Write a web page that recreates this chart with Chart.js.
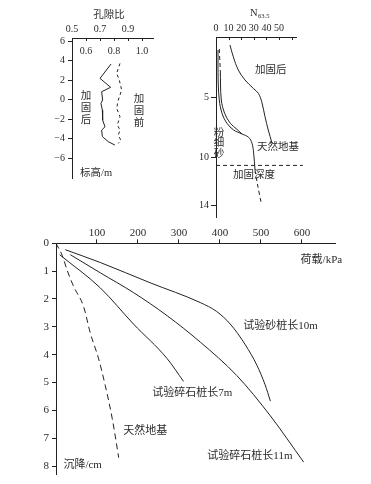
<!DOCTYPE html>
<html><head><meta charset="utf-8">
<script src="https://cdn.jsdelivr.net/npm/chart.js@4.4.1/dist/chart.umd.min.js"></script>
<style>
html,body{margin:0;padding:0;background:#fff;width:371px;height:484px;overflow:hidden}
canvas{position:absolute;display:block}
</style></head><body>
<canvas id="c1" width="185" height="200" style="left:0;top:0"></canvas>
<canvas id="c2" width="186" height="230" style="left:185px;top:0"></canvas>
<canvas id="c3" width="371" height="269" style="left:0;top:215px"></canvas>
<script>
// ---------- Chart 1: void ratio (孔隙比) vs elevation (标高) ----------
const ratioTopTicks = [0.5, 0.7, 0.9];
const ratioInnerTicks = [0.6, 0.8, 1.0];
const ratioMarks = [0.6, 0.7, 0.8, 0.9, 1.0];
const elevTicks = [6, 4, 2, 0, -2, -4, -6];
const afterRatio = [0.779, 0.700, 0.776, 0.712, 0.719, 0.707, 0.717, 0.719, 0.736, 0.712, 0.717, 0.760, 0.807];
const afterElev  = [3.64, 2.17, 1.25, 0.80, -0.05, -0.39, -1.08, -2.10, -2.80, -3.13, -3.80, -4.33, -4.67];
const beforeRatio = [0.843, 0.819, 0.838, 0.855, 0.831, 0.819, 0.843, 0.824, 0.843, 0.831, 0.848, 0.831];
const beforeElev  = [3.70, 2.69, 2.00, 0.97, -0.05, -0.90, -1.76, -2.60, -3.13, -3.64, -4.15, -4.50];

// ---------- Chart 2: N63.5 blow count vs depth ----------
const blowTicks = [0, 10, 20, 30, 40, 50];
const blowMarks = [10, 20, 30, 40, 50, 60];
const depthTicks = [5, 10, 14];
const reinforcedBlows = [11.1, 13.7, 17.7, 23.0, 29.6, 33.6, 36.3, 38.9, 41.5, 44.5];
const reinforcedDepth = [0.67, 1.64, 2.75, 3.58, 4.28, 4.69, 5.39, 6.64, 7.75, 8.85];
const naturalBlows = [1.6, 1.7, 2.6, 4.8, 8.7, 14.0, 20.6, 25.9, 28.6, 29.9, 31.0];
const naturalDepth = [1.08, 3.58, 5.25, 6.36, 7.19, 7.75, 8.08, 8.36, 8.86, 9.69, 11.1];
const naturalTailBlows = [31.0, 32.8, 36.0];
const naturalTailDepth = [11.1, 12.2, 13.9];
const siltBlows = [3.4, 4.2, 6.9, 11.4, 16.7, 20.6];
const siltDepth = [2.75, 5.25, 6.36, 7.19, 7.70, 8.08];
const siltTopBlows = [2.6, 3.4];
const siltTopDepth = [1.0, 2.75];
const treatLineBlows = [0, 69];
const treatLineDepth = [10.7, 10.7];

// ---------- Chart 3: load (荷载) vs settlement (沉降) ----------
const loadTicks = [100, 200, 300, 400, 500, 600];
const settleTicks = [0, 1, 2, 3, 4, 5, 6, 7, 8];
const naturalLoad   = [0, 15, 27, 43, 67, 84, 104, 120, 137, 153];
const naturalSettle = [0, 0.43, 0.96, 1.55, 2.26, 3.24, 4.15, 5.10, 6.28, 7.70];
const pile7Load   = [8.8, 108, 189, 271, 311];
const pile7Settle = [0.41, 1.60, 2.90, 4.14, 4.96];
const pile11Load   = [35, 108, 189, 271, 352, 441, 523, 604];
const pile11Settle = [0.41, 1.06, 1.77, 2.60, 3.55, 4.75, 6.20, 7.86];
const sand10Load   = [22.7, 108, 230, 352, 392, 425, 462, 490, 510, 523];
const sand10Settle = [0.23, 0.69, 1.42, 2.13, 2.45, 2.90, 3.65, 4.38, 5.08, 5.67];

// ---------- styling ----------
const FONT = "'Liberation Serif','Noto Sans CJK SC',serif";
const INK = '#222';
const TXT = '#2b2b2b';
Chart.defaults.font.family = FONT;
Chart.defaults.color = TXT;
Chart.defaults.animation = false;

const pts = (xs, ys) => xs.map((x, i) => ({x, y: ys[i]}));
const line = (xs, ys, extra) => Object.assign({
  data: pts(xs, ys), borderColor: INK, borderWidth: 1, pointRadius: 0,
  fill: false, tension: 0
}, extra || {});
const fixTicks = vals => s => { s.ticks = vals.map(v => ({value: v})); };
const minus = v => v < 0 ? '\u2212' + Math.abs(v) : String(v);

function notesPlugin(notes, opts) {
  opts = opts || {};
  return {
    id: 'notes',
    afterDraw(chart) {
      const ctx = chart.ctx, xs = chart.scales.x, ys = chart.scales.y, a = chart.chartArea;
      ctx.save();
      ctx.fillStyle = TXT; ctx.strokeStyle = INK; ctx.lineWidth = 1;
      // inward tick marks on top axis
      if (opts.marks) {
        ctx.beginPath();
        opts.marks.forEach(v => {
          const px = Math.round(xs.getPixelForValue(v)) + 0.5;
          ctx.moveTo(px, a.top); ctx.lineTo(px, a.top + opts.markLen);
        });
        ctx.stroke();
      }
      // inner tick labels
      if (opts.inner) {
        ctx.font = opts.innerSize + 'px ' + FONT;
        ctx.textAlign = 'center'; ctx.textBaseline = 'middle';
        opts.inner.forEach(v => ctx.fillText(v.toFixed(1), xs.getPixelForValue(v), a.top + opts.innerOffset));
      }
      notes.forEach(n => {
        ctx.font = n.size + 'px ' + FONT;
        ctx.textBaseline = 'middle';
        const px = xs.getPixelForValue(n.x), py = ys.getPixelForValue(n.y);
        if (n.vertical) {
          ctx.textAlign = 'center';
          [...n.text].forEach((ch, i) => ctx.fillText(ch, px, py + i * n.step));
        } else {
          ctx.textAlign = n.align || 'left';
          ctx.fillText(n.text, px, py);
          if (n.sub) {
            const w = ctx.measureText(n.text).width;
            ctx.font = n.subSize + 'px ' + FONT;
            ctx.textAlign = 'left';
            ctx.fillText(n.sub, px + w + 0.5, py + 3);
          }
        }
      });
      ctx.restore();
    }
  };
}

const axisBase = {
  type: 'linear',
  border: {display: true, color: INK, width: 1},
};

// ---------- Chart 1 ----------
new Chart(document.getElementById('c1'), {
  type: 'line',
  data: {datasets: [
    line(afterRatio, afterElev),
    line(beforeRatio, beforeElev, {borderDash: [3, 3]})
  ]},
  options: {
    responsive: false, devicePixelRatio: 1,
    layout: {padding: {left: 32, top: 10, right: 32, bottom: 22}},
    plugins: {legend: {display: false}, tooltip: {enabled: false}},
    scales: {
      x: Object.assign({}, axisBase, {
        position: 'top', min: 0.5, max: 1.079,
        afterBuildTicks: fixTicks(ratioTopTicks),
        afterFit: s => { s.height = 28; },
        grid: {display: true, drawOnChartArea: false, drawTicks: false},
        ticks: {font: {size: 10}, padding: 3, maxRotation: 0, autoSkip: false, callback: v => v.toFixed(1)}
      }),
      y: Object.assign({}, axisBase, {
        min: -8.05, max: 6.31,
        afterBuildTicks: fixTicks(elevTicks),
        afterFit: s => { s.width = 40; },
        grid: {display: true, drawOnChartArea: false, drawTicks: true, tickLength: 4, color: INK},
        ticks: {font: {size: 10}, padding: 3, autoSkip: false, callback: minus}
      })
    }
  },
  plugins: [notesPlugin([
    {text: '孔隙比', x: 0.764, y: 8.67, size: 10.5, align: 'center'},
    {text: '标高/m', x: 0.557, y: -7.54, size: 10.5},
    {text: '加固后', x: 0.60, y: 0.36, size: 10.5, vertical: true, step: 12},
    {text: '加固前', x: 0.979, y: 0.05, size: 10.5, vertical: true, step: 12}
  ], {marks: ratioMarks, markLen: 3, inner: ratioInnerTicks, innerSize: 10, innerOffset: 13.5})]
});

// ---------- Chart 2 ----------
new Chart(document.getElementById('c2'), {
  type: 'line',
  data: {datasets: [
    line(reinforcedBlows, reinforcedDepth, {tension: 0.35}),
    line(naturalBlows, naturalDepth, {tension: 0.35}),
    line(naturalTailBlows, naturalTailDepth, {borderDash: [4, 3], tension: 0.3}),
    line(siltBlows, siltDepth, {tension: 0.35}),
    line(siltTopBlows, siltTopDepth, {borderDash: [4, 3]}),
    line(treatLineBlows, treatLineDepth, {borderDash: [4, 3], clip: false})
  ]},
  options: {
    responsive: false, devicePixelRatio: 1,
    layout: {padding: {left: 0, top: 9, right: 74.4, bottom: 13}},
    plugins: {legend: {display: false}, tooltip: {enabled: false}},
    scales: {
      x: Object.assign({}, axisBase, {
        position: 'top', min: 0, max: 64,
        afterBuildTicks: fixTicks(blowTicks),
        afterFit: s => { s.height = 28; },
        grid: {display: true, drawOnChartArea: false, drawTicks: false},
        ticks: {font: {size: 10}, padding: 3, maxRotation: 0, autoSkip: false}
      }),
      y: Object.assign({}, axisBase, {
        reverse: true, min: 0, max: 15,
        afterBuildTicks: fixTicks(depthTicks),
        afterFit: s => { s.width = 31; },
        grid: {display: true, drawOnChartArea: false, drawTicks: true, tickLength: 5, color: INK},
        ticks: {font: {size: 10}, padding: 2, autoSkip: false}
      })
    }
  },
  plugins: [notesPlugin([
    {text: 'N', x: 27, y: -2, size: 10.5, sub: '63.5', subSize: 6.5},
    {text: '加固后', x: 31, y: 2.75, size: 10.5},
    {text: '天然地基', x: 32.5, y: 9.17, size: 10.5},
    {text: '粉细砂', x: 2.4, y: 8.0, size: 10.5, vertical: true, step: 10.5},
    {text: '加固深度', x: 13.5, y: 11.5, size: 10.5}
  ], {marks: blowMarks, markLen: 3})]
});

// ---------- Chart 3 ----------
new Chart(document.getElementById('c3'), {
  type: 'line',
  data: {datasets: [
    line(naturalLoad, naturalSettle, {borderDash: [6, 4], cubicInterpolationMode: 'monotone'}),
    line(pile7Load, pile7Settle, {cubicInterpolationMode: 'monotone'}),
    line(pile11Load, pile11Settle, {cubicInterpolationMode: 'monotone'}),
    line(sand10Load, sand10Settle, {cubicInterpolationMode: 'monotone'})
  ]},
  options: {
    responsive: false, devicePixelRatio: 1,
    layout: {padding: {left: 20, top: 0, right: 36, bottom: 6.6}},
    plugins: {legend: {display: false}, tooltip: {enabled: false}},
    scales: {
      x: Object.assign({}, axisBase, {
        position: 'top', min: 0, max: 680.5,
        afterBuildTicks: fixTicks(loadTicks),
        afterFit: s => { s.height = 28.3; },
        grid: {display: true, drawOnChartArea: false, drawTicks: true, tickLength: 4, color: INK},
        ticks: {font: {size: 11}, padding: 0, maxRotation: 0, autoSkip: false}
      }),
      y: Object.assign({}, axisBase, {
        reverse: true, min: 0, max: 8.3,
        afterBuildTicks: fixTicks(settleTicks),
        afterFit: s => { s.width = 36; },
        grid: {display: true, drawOnChartArea: false, drawTicks: true, tickLength: 4, color: INK},
        ticks: {font: {size: 11}, padding: 3, autoSkip: false}
      })
    }
  },
  plugins: [notesPlugin([
    {text: '荷载/kPa', x: 698, y: 0.59, size: 11, align: 'right'},
    {text: '试验砂桩长10m', x: 457, y: 2.97, size: 11},
    {text: '试验碎石桩长7m', x: 235, y: 5.37, size: 11},
    {text: '天然地基', x: 164, y: 6.73, size: 11},
    {text: '试验碎石桩长11m', x: 369, y: 7.65, size: 11},
    {text: '沉降/cm', x: 18, y: 7.97, size: 11}
  ])]
});
</script>
</body></html>
